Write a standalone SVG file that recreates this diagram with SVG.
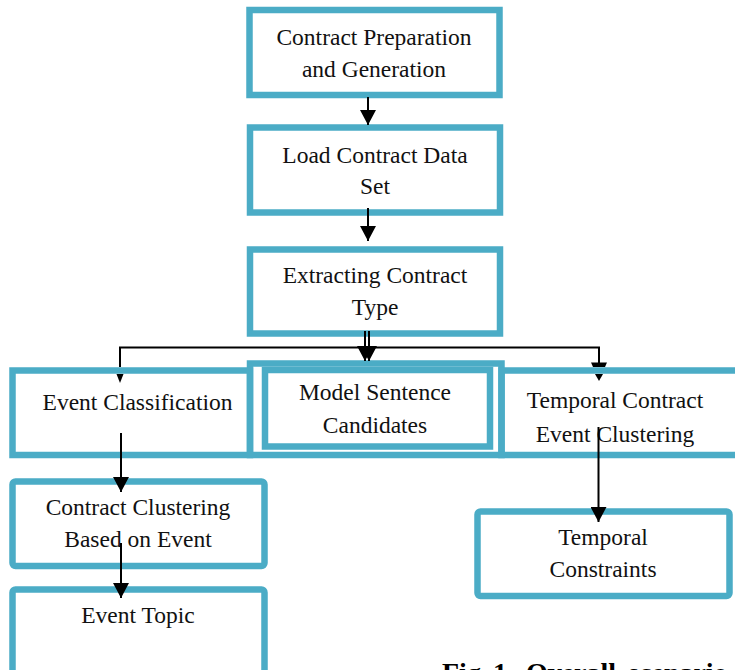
<svg xmlns="http://www.w3.org/2000/svg" width="735" height="670" viewBox="0 0 735 670">
<defs>
<style>
.box{fill:none;stroke:#4bacc6;stroke-width:6.5}
.t{font-family:"Liberation Serif","Times New Roman",serif;font-size:23.5px;fill:#111;text-anchor:middle}
.c{stroke:#000;stroke-width:2;fill:none}
.cap{font-family:"Liberation Serif","Times New Roman",serif;font-size:28px;font-weight:bold;fill:#000;word-spacing:5px}
</style>
<marker id="ah" markerUnits="userSpaceOnUse" markerWidth="16" markerHeight="16" refX="15" refY="8" orient="auto">
<path d="M0,0 L15,8 L0,16 z" fill="#000"/>
</marker>
</defs>
<rect width="735" height="670" fill="#fff"/>

<g id="n1">
<rect class="box" x="249.5" y="10" width="250" height="85"/>
<text class="t" x="374" y="45">Contract Preparation</text>
<text class="t" x="374" y="77">and Generation</text>
</g>
<g id="n2">
<rect class="box" x="250" y="127.5" width="250" height="85"/>
<text class="t" x="375" y="163">Load Contract Data</text>
<text class="t" x="375" y="194">Set</text>
</g>
<g id="n3">
<rect class="box" x="250" y="249.5" width="250" height="84"/>
<text class="t" x="375" y="283">Extracting Contract</text>
<text class="t" x="375" y="315">Type</text>
</g>
<g id="n4">
<rect class="box" x="12.5" y="370.5" width="237.5" height="84.5"/>
<text class="t" x="137.5" y="410">Event Classification</text>
</g>
<g id="n5">
<rect class="box" x="250" y="363.5" width="251.5" height="91.5"/>
<rect class="box" x="265" y="370" width="225" height="76.5"/>
<text class="t" x="375" y="400">Model Sentence</text>
<text class="t" x="375" y="433">Candidates</text>
</g>
<g id="n6">
<rect class="box" x="501.5" y="370.5" width="250" height="84.5"/>
<text class="t" x="615" y="408">Temporal Contract</text>
<text class="t" x="615" y="442">Event Clustering</text>
</g>
<g id="n7">
<rect class="box" x="12.5" y="481.5" width="252" height="84.5" rx="3"/>
<text class="t" x="138" y="515">Contract Clustering</text>
<text class="t" x="138" y="547">Based on Event</text>
</g>
<g id="n8">
<rect class="box" x="12.5" y="589.5" width="252" height="120" rx="3"/>
<text class="t" x="138" y="623">Event Topic</text>
</g>
<g id="n9">
<rect class="box" x="477.5" y="511.5" width="252" height="84.5" rx="3"/>
<text class="t" x="603" y="545">Temporal</text>
<text class="t" x="603" y="577">Constraints</text>
</g>

<g id="connectors">
<line class="c" x1="368" y1="97" x2="368" y2="125" marker-end="url(#ah)"/>
<line class="c" x1="368" y1="208" x2="368" y2="241" marker-end="url(#ah)"/>
<line class="c" x1="365" y1="331" x2="365" y2="361" marker-end="url(#ah)"/>
<line class="c" x1="369" y1="331" x2="369" y2="361" marker-end="url(#ah)"/>
<line class="c" x1="119" y1="347.5" x2="600" y2="347.5"/>
<line class="c" x1="120" y1="347.5" x2="120" y2="367"/>
<polygon points="116.5,374 123.5,374 120,383" fill="#000"/>
<line class="c" x1="599" y1="347.5" x2="599" y2="367"/>
<polygon points="591,362.5 607,362.5 605,367 593,367" fill="#000"/>
<polygon points="595,374 603,374 599,381" fill="#000"/>
<line class="c" x1="121" y1="433" x2="121" y2="492" marker-end="url(#ah)"/>
<line class="c" x1="121" y1="543" x2="121" y2="598" marker-end="url(#ah)"/>
<line class="c" x1="598.5" y1="427" x2="598.5" y2="522" marker-end="url(#ah)"/>
</g>

<text class="cap" x="442" y="682">Fig 1. Overall scenario</text>
</svg>
